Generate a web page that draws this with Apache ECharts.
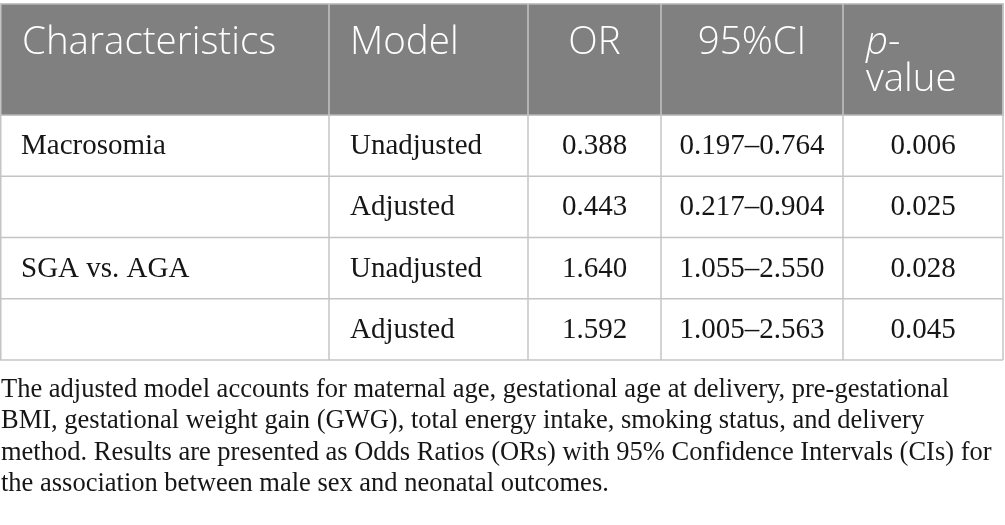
<!DOCTYPE html>
<html>
<head>
<meta charset="utf-8">
<script src="https://cdn.jsdelivr.net/npm/echarts@6/dist/echarts.min.js"></script>
<style>
  html, body { margin: 0; padding: 0; background: #fff; }
  #chart { width: 1005px; height: 525px; }
</style>
</head>
<body>
<div id="chart"></div>
<script>
//== table content
var headers = ['Characteristics', 'Model', 'OR', '95%CI', '{i|p}-\nvalue'];
var characteristics = ['Macrosomia', '', 'SGA vs. AGA', ''];
var models = ['Unadjusted', 'Adjusted', 'Unadjusted', 'Adjusted'];
var orValues = ['0.388', '0.443', '1.640', '1.592'];
var ciValues = ['0.197\u20130.764', '0.217\u20130.904', '1.055\u20132.550', '1.005\u20132.563'];
var pValues = ['0.006', '0.025', '0.028', '0.045'];
var footnote = [
    'The adjusted model accounts for maternal age, gestational age at delivery, pre-gestational',
    'BMI, gestational weight gain (GWG), total energy intake, smoking status, and delivery',
    'method. Results are presented as Odds Ratios (ORs) with 95% Confidence Intervals (CIs) for',
    'the association between male sex and neonatal outcomes.'
];

//== layout
var colEdges = [0, 329, 528, 661, 843, 1003];
var colAlign = ['left', 'left', 'center', 'center', 'center'];
var headTop = 4, headBottom = 115, rowH = 61.25;
var pad = 21;
var headFont = '"Open Sans", sans-serif';
var bodyFont = '"Liberation Serif", "DejaVu Serif", serif';
var lineColor = '#c4c4c4';

function textX(c) {
    if (colAlign[c] === 'left') return colEdges[c] + pad;
    return (colEdges[c] + colEdges[c + 1]) / 2;
}

var elements = [];

// header band
elements.push({
    type: 'rect',
    shape: {x: colEdges[0], y: headTop, width: colEdges[5] - colEdges[0], height: headBottom - headTop},
    style: {fill: '#808080', stroke: '#b4b4b4', lineWidth: 1.5}
});

for (var c = 0; c < headers.length; c++) {
    var isP = headers[c].indexOf('\n') >= 0;
    elements.push({
        type: 'text',
        x: isP ? colEdges[c] + 23 : textX(c) + (c === 0 ? 1 : 0),
        y: headTop + 21,
        style: {
            text: headers[c],
            fill: '#ffffff',
            fontSize: 38.5,
            fontWeight: 300,
            fontFamily: headFont,
            lineHeight: 37,
            align: isP ? 'left' : colAlign[c],
            verticalAlign: 'top',
            rich: {i: {fontStyle: 'italic', fontWeight: 300, fontSize: 38.5, fontFamily: headFont, fill: '#fff', lineHeight: 37}}
        }
    });
}

// body rows
var bodyCols = [characteristics, models, orValues, ciValues, pValues];
for (var r = 0; r < models.length; r++) {
    var y0 = headBottom + r * rowH;
    for (var k = 0; k < bodyCols.length; k++) {
        elements.push({
            type: 'text',
            x: textX(k),
            y: y0 + rowH / 2 + 1,
            style: {
                text: bodyCols[k][r],
                fill: '#161616',
                fontSize: 29,
                fontFamily: bodyFont,
                align: colAlign[k],
                verticalAlign: 'middle'
            }
        });
    }
    // row bottom line
    elements.push({
        type: 'line',
        shape: {x1: colEdges[0], y1: y0 + rowH, x2: colEdges[5], y2: y0 + rowH},
        style: {stroke: lineColor, lineWidth: 1.5}
    });
}

// vertical lines
var tableBottom = headBottom + models.length * rowH;
for (var v = 0; v < colEdges.length; v++) {
    var ex = colEdges[v] === 0 ? 0.75 : colEdges[v];
    elements.push({
        type: 'line',
        shape: {x1: ex, y1: headTop, x2: ex, y2: tableBottom},
        style: {stroke: lineColor, lineWidth: 1.5}
    });
}

// footnote
for (var f = 0; f < footnote.length; f++) {
    elements.push({
        type: 'text',
        x: 1,
        y: 390 + f * 31.5,
        style: {
            text: footnote[f],
            fill: '#161616',
            fontSize: 26.5,
            fontFamily: bodyFont,
            align: 'left',
            verticalAlign: 'middle'
        }
    });
}

var chart = echarts.init(document.getElementById('chart'));
chart.setOption({
    animation: false,
    backgroundColor: '#ffffff',
    graphic: {elements: elements}
});
</script>
</body>
</html>
